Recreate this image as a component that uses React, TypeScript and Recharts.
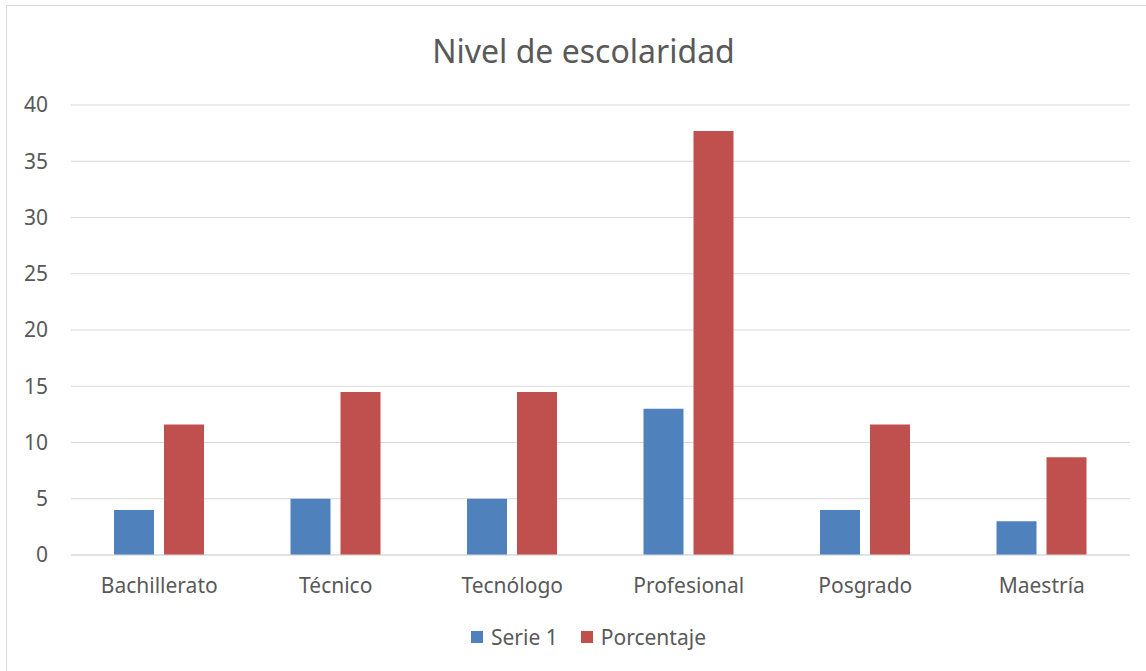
import { BarChart, Bar, XAxis, YAxis, CartesianGrid } from "recharts";

const categories = ["Bachillerato", "Técnico", "Tecnólogo", "Profesional", "Posgrado", "Maestría"];
const serie1 = [4, 5, 5, 13, 4, 3];
const porcentaje = [11.6, 14.5, 14.5, 37.7, 11.6, 8.7];
const yTicks = [0, 5, 10, 15, 20, 25, 30, 35, 40];

const BLUE = "#4F81BD";
const RED = "#C0504D";
const TEXT = "#595959";
const GRID = "#D9D9D9";
const FONT = "'Noto Sans', 'Open Sans', sans-serif";

const data = categories.map((name, i) => ({
  name,
  serie1: serie1[i],
  porcentaje: porcentaje[i],
}));

const legendItems = [
  { label: "Serie 1", color: BLUE },
  { label: "Porcentaje", color: RED },
];

const App = () => {
  return (
    <div
      style={{
        position: "absolute",
        left: 0,
        top: 0,
        width: 1146,
        height: 671,
        overflow: "hidden",
        background: "#fff",
        fontFamily: FONT,
      }}
    >
      <div
        style={{
          position: "absolute",
          left: 6,
          top: 5,
          width: 1160,
          height: 690,
          border: `1px solid ${GRID}`,
        }}
      />
      <div
        style={{
          position: "absolute",
          left: 0,
          top: 35,
          width: 1167,
          textAlign: "center",
          fontSize: 32,
          lineHeight: "32px",
          color: TEXT,
        }}
      >
        Nivel de escolaridad
      </div>
      <BarChart
        width={1146}
        height={671}
        data={data}
        margin={{ top: 105, right: 16, bottom: 56, left: 0 }}
        barSize={40}
        barGap={10}
        style={{ position: "absolute", left: 0, top: 0 }}
      >
        <CartesianGrid vertical={false} stroke={GRID} strokeWidth={1} />
        <XAxis
          dataKey="name"
          height={60}
          tickLine={false}
          tickSize={0}
          tickMargin={23}
          axisLine={{ stroke: GRID }}
          tick={{ fill: TEXT, fontSize: 21, fontFamily: FONT }}
        />
        <YAxis
          width={71}
          domain={[0, 40]}
          ticks={yTicks}
          tickLine={false}
          axisLine={false}
          tickSize={0}
          tickMargin={23}
          tick={{ fill: TEXT, fontSize: 21, fontFamily: FONT }}
        />
        <Bar dataKey="serie1" name="Serie 1" fill={BLUE} isAnimationActive={false} />
        <Bar dataKey="porcentaje" name="Porcentaje" fill={RED} isAnimationActive={false} />
      </BarChart>
      <div
        style={{
          position: "absolute",
          left: 471,
          top: 623,
          height: 28,
          display: "flex",
          alignItems: "center",
          fontSize: 21,
          color: TEXT,
        }}
      >
        {legendItems.map((item, i) => (
          <div
            key={item.label}
            style={{ display: "flex", alignItems: "center", marginRight: i === 0 ? 23 : 0 }}
          >
            <span
              style={{ display: "inline-block", width: 12, height: 12, background: item.color, marginRight: 8 }}
            />
            <span>{item.label}</span>
          </div>
        ))}
      </div>
    </div>
  );
};

export default App;
